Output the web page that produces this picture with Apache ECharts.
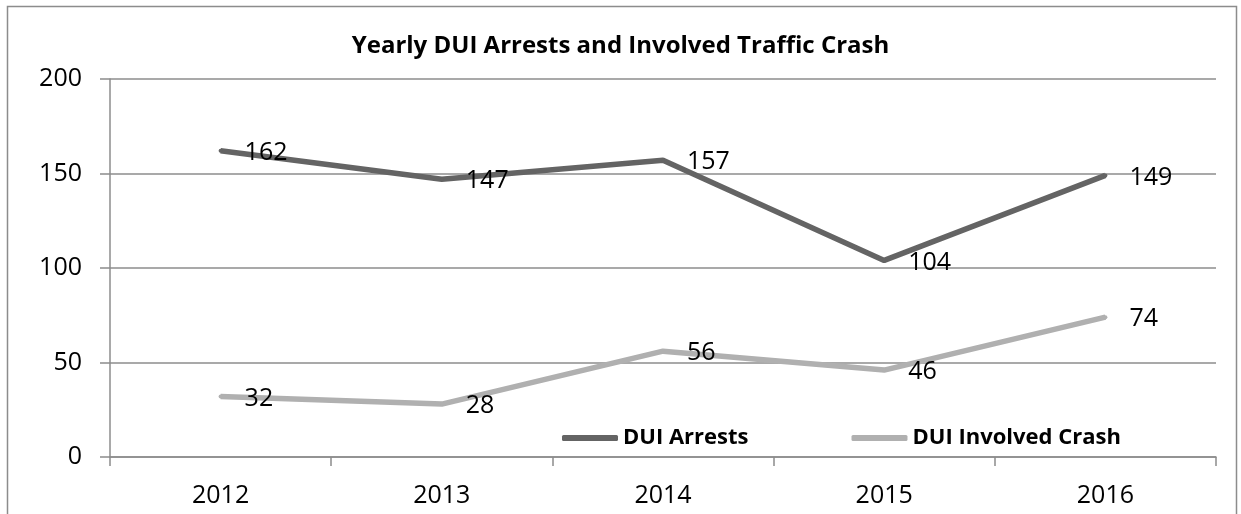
<!DOCTYPE html>
<html>
<head>
<meta charset="utf-8">
<script src="https://cdn.jsdelivr.net/npm/echarts@6/dist/echarts.min.js"></script>
<style>
  html, body { margin: 0; padding: 0; background: #fff; }
  #chart { width: 1241px; height: 514px; }
</style>
</head>
<body>
<div id="chart"></div>
<script>
// 数据
var years = ['2012', '2013', '2014', '2015', '2016'];
var duiArrests = [162, 147, 157, 104, 149];
var duiCrash = [32, 28, 56, 46, 74];
var yTicks = [0, 50, 100, 150, 200];

var font = 'Open Sans';
var myChart = echarts.init(document.getElementById('chart'));

function labelStyle() {
	return {
		show: true,
		position: 'right',
		distance: 22,
		offset: [0, 2],
		color: '#000',
		fontFamily: font,
		fontSize: 25
	};
}

var option = {
	animation: false,
	backgroundColor: '#fff',
	// 外边框
	graphic: [{
		type: 'rect',
		shape: { x: 7.5, y: 6.5, width: 1229, height: 540 },
		style: { fill: 'none', stroke: '#8c8c8c', lineWidth: 1.5 },
		silent: true
	}],
	title: {
		text: 'Yearly DUI Arrests and Involved Traffic Crash',
		left: 'center',
		top: 29,
		textStyle: { fontFamily: font, fontWeight: 'bold', fontSize: 24, color: '#000' }
	},
	legend: {
		bottom: 60,
		left: 557,
		itemGap: 103,
		itemWidth: 56,
		itemHeight: 6,
		icon: 'roundRect',
		textStyle: { fontFamily: font, fontWeight: 'bold', fontSize: 22, color: '#000' },
		data: ['DUI Arrests', 'DUI Involved Crash']
	},
	grid: { left: 110, right: 25, top: 79, bottom: 57, containLabel: false },
	xAxis: {
		type: 'category',
		data: years,
		boundaryGap: true,
		axisLine: { lineStyle: { color: '#8c8c8c', width: 1.5 } },
		axisTick: { show: true, length: 9, interval: 0, lineStyle: { color: '#8c8c8c', width: 1.5 } },
		axisLabel: { margin: 26, color: '#000', fontFamily: font, fontSize: 25 }
	},
	yAxis: {
		type: 'value',
		min: yTicks[0],
		max: yTicks[yTicks.length - 1],
		interval: 50,
		axisLine: { show: true, lineStyle: { color: '#8c8c8c', width: 1.5 } },
		axisTick: { show: true, length: 10, lineStyle: { color: '#8c8c8c', width: 1.5 } },
		axisLabel: { margin: 28, color: '#000', fontFamily: font, fontSize: 25 },
		splitLine: { lineStyle: { color: '#8c8c8c', width: 1.5 } }
	},
	series: [{
		name: 'DUI Arrests',
		type: 'line',
		data: duiArrests,
		symbol: 'circle',
		symbolSize: 4,
		showSymbol: true,
		lineStyle: { color: '#646464', width: 5.5 },
		itemStyle: { color: '#646464' },
		label: labelStyle()
	}, {
		name: 'DUI Involved Crash',
		type: 'line',
		data: duiCrash,
		symbol: 'circle',
		symbolSize: 4,
		showSymbol: true,
		lineStyle: { color: '#b0b0b0', width: 5.5 },
		itemStyle: { color: '#b0b0b0' },
		label: labelStyle()
	}]
};
myChart.setOption(option);
</script>
</body>
</html>
